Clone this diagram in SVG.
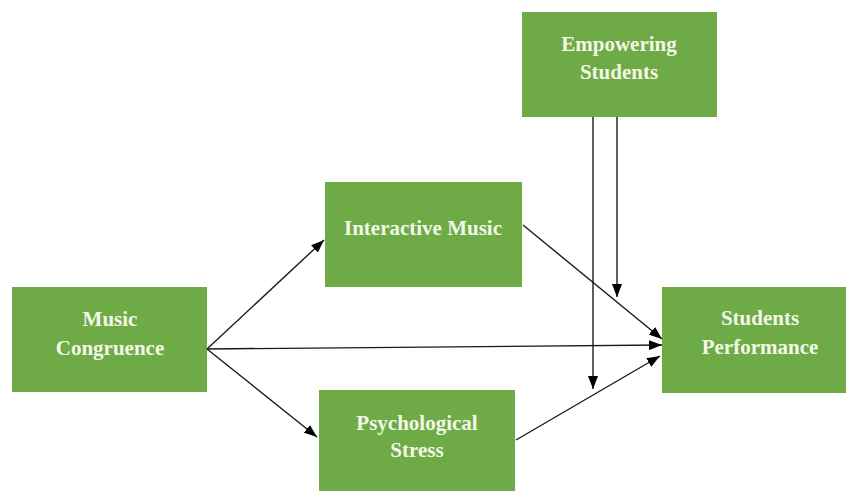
<svg xmlns="http://www.w3.org/2000/svg" width="846" height="491" viewBox="0 0 846 491">
<defs>
<style>
.box{fill:#6eab47;}
.lbl{font-family:"Liberation Serif","Times New Roman",serif;font-weight:bold;font-size:21px;fill:#f3f8e6;text-anchor:middle;}
.con{stroke:#1a1a1a;stroke-width:1.4;fill:none;marker-end:url(#ah);}
</style>
<marker id="ah" viewBox="0 0 13 10" refX="13" refY="5" markerWidth="13" markerHeight="10" markerUnits="userSpaceOnUse" orient="auto">
<path d="M0,0 L13,5 L0,10 Z" fill="#000"/>
</marker>
</defs>
<rect width="846" height="491" fill="#fff"/>
<g id="music-congruence"><rect class="box" x="12" y="287" width="195" height="105"/><text class="lbl" x="110" y="326">Music</text><text class="lbl" x="110" y="355">Congruence</text></g>
<g id="empowering-students"><rect class="box" x="522" y="12" width="195" height="105"/><text class="lbl" x="619" y="51">Empowering</text><text class="lbl" x="619" y="79">Students</text></g>
<g id="interactive-music"><rect class="box" x="325" y="182" width="197" height="105"/><text class="lbl" x="423" y="235">Interactive Music</text></g>
<g id="psychological-stress"><rect class="box" x="319" y="390" width="196" height="105"/><text class="lbl" x="417" y="430">Psychological</text><text class="lbl" x="417" y="457">Stress</text></g>
<g id="students-performance"><rect class="box" x="662" y="287" width="190" height="106"/><text class="lbl" x="760" y="325">Students</text><text class="lbl" x="760" y="354">Performance</text></g>
<g id="connectors">
<path class="con" d="M207,349 L324,240"/>
<path class="con" d="M207,349 L317,437"/>
<path class="con" d="M207,349 L662,345"/>
<path class="con" d="M523,225 L662,339"/>
<path class="con" d="M516,440 L660,356"/>
<path class="con" d="M593,117 L593,389"/>
<path class="con" d="M617,117 L617,297"/>
</g>
</svg>
